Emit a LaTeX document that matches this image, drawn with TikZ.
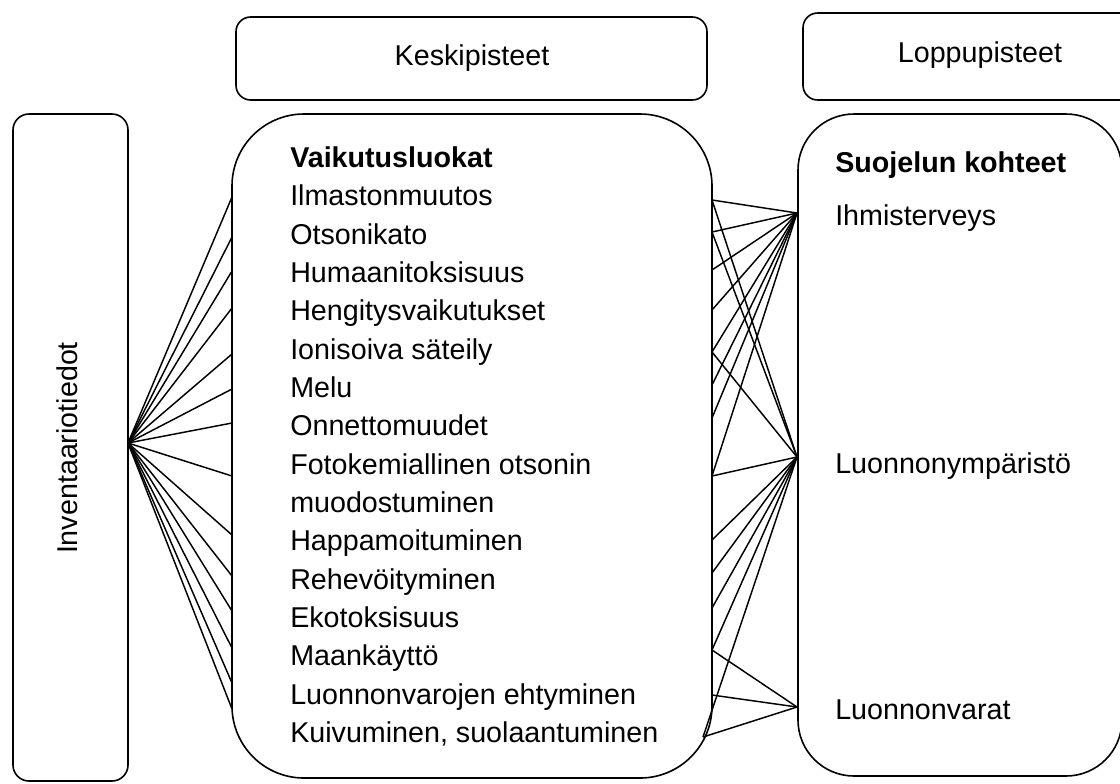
\documentclass[tikz,border=0pt]{standalone}
\usepackage{fontspec}
\setmainfont{Liberation Sans}
\begin{document}
\begin{tikzpicture}[x=0.75pt,y=-0.75pt,
  box/.style={draw, line width=1.2pt},
  txt/.style={font=\fontsize{21.5}{26}\selectfont, inner sep=0pt, text height=15.5pt, text depth=4.5pt},
  lbl/.style={txt, anchor=west},
  link/.style={line width=1.1pt}]
\useasboundingbox (0,0) rectangle (1120,783);
% boxes
\draw[box, rounded corners=12pt] (13,114) rectangle (128,781);
\draw[box, rounded corners=11pt] (236,17) rectangle (707,100);
\draw[box, rounded corners=11pt] (803,13) rectangle (1135,100);
\draw[box, rounded corners=54pt] (232,114) rectangle (712,778);
\draw[box, rounded corners=42pt] (798,114) rectangle (1122,776);
% headers
\node[txt] (kesk) at (472,58) {Keskipisteet};
\node[txt] (lopp) at (980,55) {Loppupisteet};
\node[txt, rotate=90] (inv) at (70,448) {Inventaariotiedot};
% middle texts
\node[lbl, font=\fontsize{21.5}{26}\selectfont\bfseries] (vl) at (290,160) {Vaikutusluokat};
\node[lbl] (t1) at (290,198.3) {Ilmastonmuutos};
\node[lbl] (t2) at (290,236.7) {Otsonikato};
\node[lbl] (t3) at (290,275.0) {Humaanitoksisuus};
\node[lbl] (t4) at (290,313.3) {Hengitysvaikutukset};
\node[lbl] (t5) at (290,351.7) {Ionisoiva säteily};
\node[lbl] (t6) at (290,390.0) {Melu};
\node[lbl] (t7) at (290,428.3) {Onnettomuudet};
\node[lbl] (t8) at (290,466.7) {Fotokemiallinen otsonin};
\node[lbl] (t8b) at (290,505.0) {muodostuminen};
\node[lbl] (t9) at (290,543.3) {Happamoituminen};
\node[lbl] (t10) at (290,581.7) {Rehevöityminen};
\node[lbl] (t11) at (290,620.0) {Ekotoksisuus};
\node[lbl] (t12) at (290,658.3) {Maankäyttö};
\node[lbl] (t13) at (290,696.7) {Luonnonvarojen ehtyminen};
\node[lbl] (t14) at (290,735.0) {Kuivuminen, suolaantuminen};
% right texts
\node[lbl, font=\fontsize{21.5}{26}\selectfont\bfseries] (sk) at (835,165) {Suojelun kohteet};
\node[lbl] (ihm) at (835,218) {Ihmisterveys};
\node[lbl] (lym) at (835,466) {Luonnonympäristö};
\node[lbl] (lvr) at (835,712) {Luonnonvarat};
% connection points
\coordinate (src) at (128,443);
\foreach \i/\y in {1/197,2/237,3/271,4/308,5/354,6/389,7/423,8/476,9/535,10/576,11/611,12/648,13/683,14/709}
  \coordinate (l\i) at (232,\y);
\foreach \i/\y in {1/200,2/232,3/270,4/310,5/352,6/385,7/418,8/476,9/540,10/573,11/608,12/650,13/695}
  \coordinate (r\i) at (712,\y);
\coordinate (r14) at (703,737);
\coordinate (ih) at (797,213);
\coordinate (ly) at (797,457);
\coordinate (lv) at (797,707);
% left fan
\foreach \i in {1,...,14} \draw[link] (src) -- (l\i);
% right fans
\foreach \i in {1,...,8} \draw[link] (ih) -- (r\i);
\foreach \i in {1,2,5,8,9,10,11,12,14} \draw[link] (ly) -- (r\i);
\foreach \i in {12,13,14} \draw[link] (lv) -- (r\i);
\end{tikzpicture}
\end{document}
